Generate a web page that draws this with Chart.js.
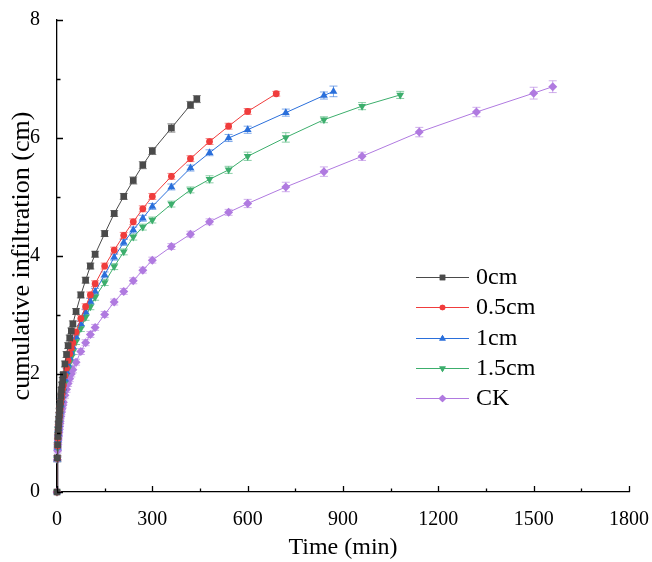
<!DOCTYPE html>
<html><head><meta charset="utf-8">
<script src="https://cdn.jsdelivr.net/npm/chart.js@4.4.1/dist/chart.umd.min.js"></script>
<style>html,body{margin:0;padding:0;background:#fff}#wrap{width:652px;height:562px}</style>
</head><body><div id="wrap"><canvas id="c" width="652" height="562"></canvas></div>
<script>
const seriesNames = ['0cm', '0.5cm', '1cm', '1.5cm', 'CK'];
const xTicks = [0, 300, 600, 900, 1200, 1500, 1800];
const yTicks = [0, 2, 4, 6, 8];

const time0 = [0,1,2,3,4,5,6,7,8,9,10,12,14,16,18,20,25,30,35,40,45,50,60,75,90,105,120,150,180,210,240,270,300,360,420,440];
const val0  = [0,0.58,0.80,0.94,1.05,1.15,1.24,1.31,1.38,1.45,1.51,1.62,1.73,1.82,1.90,1.99,2.17,2.33,2.48,2.61,2.73,2.85,3.06,3.34,3.59,3.83,4.03,4.38,4.72,5.01,5.28,5.54,5.78,6.17,6.56,6.66];
const err0  = [0,0.04,0.04,0.04,0.04,0.04,0.04,0.04,0.04,0.04,0.04,0.04,0.04,0.04,0.04,0.04,0.05,0.05,0.05,0.05,0.05,0.05,0.05,0.05,0.05,0.05,0.05,0.05,0.05,0.05,0.06,0.06,0.06,0.07,0.06,0.06];

const time05 = [0,1,2,3,4,5,6,7,8,9,10,12,14,16,18,20,25,30,35,40,45,50,60,75,90,105,120,150,180,210,240,270,300,360,420,480,540,600,690];
const val05  = [0,0.57,0.78,0.91,1.01,1.10,1.17,1.24,1.30,1.36,1.41,1.51,1.59,1.67,1.75,1.81,1.97,2.10,2.23,2.34,2.44,2.53,2.71,2.94,3.14,3.34,3.53,3.83,4.10,4.35,4.58,4.80,5.01,5.35,5.65,5.94,6.20,6.45,6.75];
const err05  = [0,0.04,0.04,0.04,0.04,0.04,0.04,0.04,0.04,0.04,0.04,0.04,0.04,0.04,0.04,0.04,0.05,0.05,0.05,0.05,0.05,0.05,0.05,0.05,0.05,0.05,0.05,0.05,0.05,0.05,0.05,0.05,0.05,0.05,0.05,0.05,0.05,0.05,0.04];

const time1 = [0,1,2,3,4,5,6,7,8,9,10,12,14,16,18,20,25,30,35,40,45,50,60,75,90,105,120,150,180,210,240,270,300,360,420,480,540,600,720,840,870];
const val1  = [0,0.56,0.76,0.89,0.99,1.07,1.14,1.21,1.27,1.32,1.37,1.47,1.55,1.63,1.70,1.76,1.91,2.04,2.16,2.27,2.37,2.46,2.63,2.85,3.05,3.23,3.40,3.68,3.98,4.23,4.44,4.64,4.84,5.17,5.49,5.75,6.00,6.14,6.43,6.72,6.79];
const err1  = [0,0.04,0.04,0.04,0.04,0.04,0.04,0.04,0.04,0.04,0.04,0.04,0.04,0.04,0.04,0.04,0.05,0.05,0.05,0.05,0.05,0.05,0.05,0.05,0.05,0.05,0.05,0.05,0.05,0.05,0.05,0.05,0.05,0.05,0.05,0.05,0.06,0.06,0.06,0.06,0.09];

const time15 = [0,1,2,3,4,5,6,7,8,9,10,12,14,16,18,20,25,30,35,40,45,50,60,75,90,105,120,150,180,210,240,270,300,360,420,480,540,600,720,840,960,1080];
const val15  = [0,0.55,0.74,0.87,0.97,1.05,1.12,1.18,1.24,1.29,1.34,1.43,1.51,1.58,1.65,1.71,1.85,1.98,2.09,2.20,2.29,2.38,2.55,2.77,2.96,3.14,3.30,3.55,3.82,4.07,4.32,4.49,4.61,4.88,5.12,5.30,5.46,5.69,6.01,6.31,6.54,6.73];
const err15  = [0,0.04,0.04,0.04,0.04,0.04,0.04,0.04,0.04,0.04,0.04,0.04,0.04,0.04,0.04,0.04,0.05,0.05,0.05,0.05,0.05,0.05,0.05,0.05,0.05,0.05,0.05,0.05,0.05,0.05,0.05,0.05,0.05,0.05,0.05,0.06,0.06,0.07,0.08,0.05,0.06,0.06];

const timeCK = [0,1,2,3,4,5,6,7,8,9,10,12,14,16,18,20,25,30,35,40,45,50,60,75,90,105,120,150,180,210,240,270,300,360,420,480,540,600,720,840,960,1140,1320,1500,1560];
const valCK  = [0,0.55,0.70,0.80,0.88,0.95,1.01,1.06,1.11,1.16,1.20,1.28,1.35,1.41,1.47,1.52,1.64,1.74,1.84,1.92,2.00,2.07,2.20,2.38,2.53,2.67,2.79,3.01,3.22,3.40,3.58,3.76,3.93,4.16,4.37,4.58,4.74,4.89,5.17,5.43,5.69,6.10,6.44,6.76,6.87];
const errCK  = [0,0.04,0.04,0.04,0.04,0.04,0.04,0.04,0.04,0.04,0.04,0.04,0.04,0.04,0.04,0.04,0.05,0.05,0.05,0.05,0.05,0.05,0.05,0.05,0.05,0.05,0.05,0.05,0.05,0.05,0.05,0.05,0.05,0.05,0.05,0.05,0.05,0.07,0.08,0.08,0.07,0.08,0.08,0.10,0.10];

const colors = ['#4a4a4a', '#f03c3c', '#2a6fdb', '#3cae6c', '#b07ae0'];
const errColors = ['rgba(74,74,74,0.65)', 'rgba(240,60,60,0.6)', 'rgba(42,111,219,0.6)', 'rgba(60,174,108,0.6)', 'rgba(176,122,224,0.6)'];
const styles = [
  {pointStyle:'rect', radius:4.7, legendRadius:3.9, rotation:0},
  {pointStyle:'circle', radius:3.4, legendRadius:2.8, rotation:0},
  {pointStyle:'triangle', radius:4.5, legendRadius:3.8, rotation:0},
  {pointStyle:'triangle', radius:4.5, legendRadius:3.8, rotation:180},
  {pointStyle:'rectRot', radius:4.5, legendRadius:3.8, rotation:0}
];

const times = [time0, time05, time1, time15, timeCK];
const vals = [val0, val05, val1, val15, valCK];
const errs = [err0, err05, err1, err15, errCK];

const FONT = '"Liberation Serif", "Times New Roman", serif';

const datasets = seriesNames.map((n, i) => ({
  label: n,
  data: times[i].map((t, j) => ({x: t, y: vals[i][j]})),
  borderColor: colors[i],
  backgroundColor: colors[i],
  borderWidth: 1,
  pointStyle: styles[i].pointStyle,
  pointRadius: styles[i].radius,
  pointRotation: styles[i].rotation,
  pointBorderWidth: 0,
  showLine: true,
  tension: 0,
  clip: false
}));

const decor = {
  id: 'decor',
  beforeDatasetsDraw(chart) {
    const ctx = chart.ctx, xs = chart.scales.x, ys = chart.scales.y;
    ctx.save();
    ctx.lineWidth = 1;
    datasets.forEach((d, i) => {
      ctx.strokeStyle = errColors[i];
      times[i].forEach((t, j) => {
        const e = errs[i][j];
        if (!e) return;
        const px = xs.getPixelForValue(t);
        const y1 = ys.getPixelForValue(vals[i][j] + e);
        const y2 = ys.getPixelForValue(vals[i][j] - e);
        ctx.beginPath();
        ctx.moveTo(px, y1); ctx.lineTo(px, y2);
        ctx.moveTo(px - 4, y1); ctx.lineTo(px + 4, y1);
        ctx.moveTo(px - 4, y2); ctx.lineTo(px + 4, y2);
        ctx.stroke();
      });
    });
    ctx.restore();
  },
  afterDraw(chart) {
    const ctx = chart.ctx, xs = chart.scales.x, ys = chart.scales.y;
    const ca = chart.chartArea;
    ctx.save();
    ctx.strokeStyle = '#000';
    ctx.lineWidth = 1.3;
    ctx.beginPath();
    for (let v = 0; v <= 1800; v += 150) {
      const px = Math.round(xs.getPixelForValue(v)) + 0.5;
      const len = (v % 300 === 0) ? 6 : 3.5;
      ctx.moveTo(px, ca.bottom); ctx.lineTo(px, ca.bottom - len);
    }
    for (let v = 0; v <= 8; v += 1) {
      const py = Math.round(ys.getPixelForValue(v)) + 0.5;
      const len = (v % 2 === 0) ? 6 : 3.5;
      ctx.moveTo(ca.left, py); ctx.lineTo(ca.left + len, py);
    }
    ctx.stroke();
    // legend
    const rows = [277, 307, 338, 368, 398];
    ctx.font = '24px ' + FONT;
    ctx.textBaseline = 'middle';
    ctx.textAlign = 'left';
    datasets.forEach((d, i) => {
      const y = rows[i];
      ctx.strokeStyle = colors[i];
      ctx.lineWidth = 1;
      ctx.beginPath(); ctx.moveTo(416, y + 0.5); ctx.lineTo(469, y + 0.5); ctx.stroke();
      ctx.fillStyle = colors[i];
      Chart.helpers.drawPoint(ctx, {pointStyle: styles[i].pointStyle, radius: styles[i].legendRadius, rotation: styles[i].rotation, borderWidth: 0}, 442.5, y + 0.5);
      ctx.fill();
      ctx.fillStyle = '#000';
      ctx.fillText(d.label, 476, y + 1);
    });
    ctx.restore();
  }
};

new Chart(document.getElementById('c'), {
  type: 'scatter',
  data: { datasets },
  options: {
    responsive: false,
    animation: false,
    layout: { padding: { left: 0, top: 20, right: 23, bottom: 0 } },
    plugins: { legend: { display: false }, tooltip: { enabled: false } },
    elements: { line: { borderWidth: 1 } },
    scales: {
      x: {
        type: 'linear', min: 0, max: 1800,
        afterBuildTicks(s) { s.ticks = xTicks.map(v => ({value: v})); },
        afterFit(s) { s.height = 70; s.paddingLeft = 0; s.paddingRight = 0; },
        grid: { display: false },
        border: { display: true, color: '#000', width: 1.3 },
        ticks: { color: '#000', font: { family: FONT, size: 20 }, padding: 8, maxRotation: 0, autoSkip: false, callback: v => String(v) },
        title: { display: true, text: 'Time (min)', color: '#000', font: { family: FONT, size: 24 }, padding: { top: 10, bottom: 0 } }
      },
      y: {
        type: 'linear', min: 0, max: 8,
        afterBuildTicks(s) { s.ticks = yTicks.map(v => ({value: v})); },
        afterFit(s) { s.width = 57; s.paddingTop = 0; s.paddingBottom = 0; },
        grid: { display: false },
        border: { display: true, color: '#000', width: 1.3 },
        ticks: { color: '#000', font: { family: FONT, size: 20 }, padding: 9, callback: v => String(v) },
        title: { display: true, text: 'cumulative infiltration (cm)', color: '#000', font: { family: FONT, size: 26 }, padding: { top: 7, bottom: 0 } }
      }
    }
  },
  plugins: [decor]
});
</script>
</body></html>
